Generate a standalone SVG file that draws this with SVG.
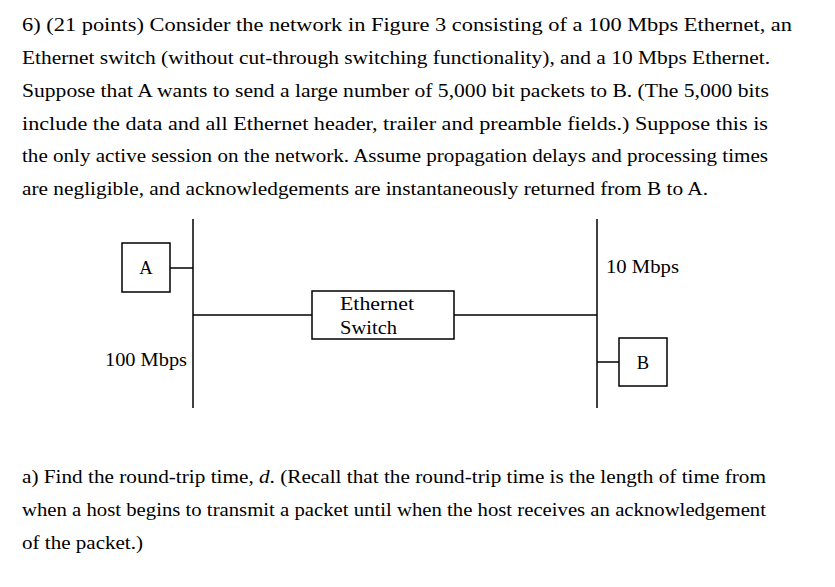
<svg xmlns="http://www.w3.org/2000/svg" width="835" height="587" viewBox="0 0 835 587">
<style>
text{font-family:"Liberation Serif","DejaVu Serif",serif;font-size:18.5px;fill:#000}
.l{stroke:#000;stroke-width:1.5;fill:none}
.b{stroke:#000;stroke-width:1.5;fill:#fff}
</style>
<rect width="835" height="587" fill="#fff"/>
<g id="question">
<text x="22" y="31" textLength="770" lengthAdjust="spacingAndGlyphs">6) (21 points) Consider the network in Figure 3 consisting of a 100 Mbps Ethernet, an</text>
<text x="22" y="64" textLength="748" lengthAdjust="spacingAndGlyphs">Ethernet switch (without cut-through switching functionality), and a 10 Mbps Ethernet.</text>
<text x="22" y="97" textLength="747" lengthAdjust="spacingAndGlyphs">Suppose that A wants to send a large number of 5,000 bit packets to B. (The 5,000 bits</text>
<text x="22" y="130" textLength="746" lengthAdjust="spacingAndGlyphs">include the data and all Ethernet header, trailer and preamble fields.) Suppose this is</text>
<text x="22" y="162" textLength="746" lengthAdjust="spacingAndGlyphs">the only active session on the network. Assume propagation delays and processing times</text>
<text x="22" y="195" textLength="686" lengthAdjust="spacingAndGlyphs">are negligible, and acknowledgements are instantaneously returned from B to A.</text>
</g>
<g id="connectors">
<line class="l" x1="193" y1="219" x2="193" y2="408"/>
<line class="l" x1="597" y1="219" x2="597" y2="408"/>
<line class="l" x1="170" y1="268" x2="193" y2="268"/>
<line class="l" x1="193" y1="315" x2="312" y2="315"/>
<line class="l" x1="454" y1="315" x2="597" y2="315"/>
<line class="l" x1="597" y1="362" x2="619" y2="362"/>
</g>
<g id="A"><rect class="b" x="122" y="243" width="48" height="49"/><text x="146" y="274" text-anchor="middle">A</text></g>
<g id="switch"><rect class="b" x="312" y="291" width="142" height="48"/><text x="340" y="310" textLength="74" lengthAdjust="spacingAndGlyphs">Ethernet</text><text x="340" y="334" textLength="57" lengthAdjust="spacingAndGlyphs">Switch</text></g>
<g id="B"><rect class="b" x="619" y="338" width="48" height="48"/><text x="643" y="369" text-anchor="middle">B</text></g>
<text x="606" y="273" textLength="73" lengthAdjust="spacingAndGlyphs">10 Mbps</text>
<text x="105" y="366" textLength="82" lengthAdjust="spacingAndGlyphs">100 Mbps</text>
<g id="partA">
<text x="22" y="483" textLength="744" lengthAdjust="spacingAndGlyphs">a) Find the round-trip time, <tspan font-style="italic">d</tspan>. (Recall that the round-trip time is the length of time from</text>
<text x="22" y="516" textLength="744" lengthAdjust="spacingAndGlyphs">when a host begins to transmit a packet until when the host receives an acknowledgement</text>
<text x="22" y="549" textLength="121" lengthAdjust="spacingAndGlyphs">of the packet.)</text>
</g>
</svg>
